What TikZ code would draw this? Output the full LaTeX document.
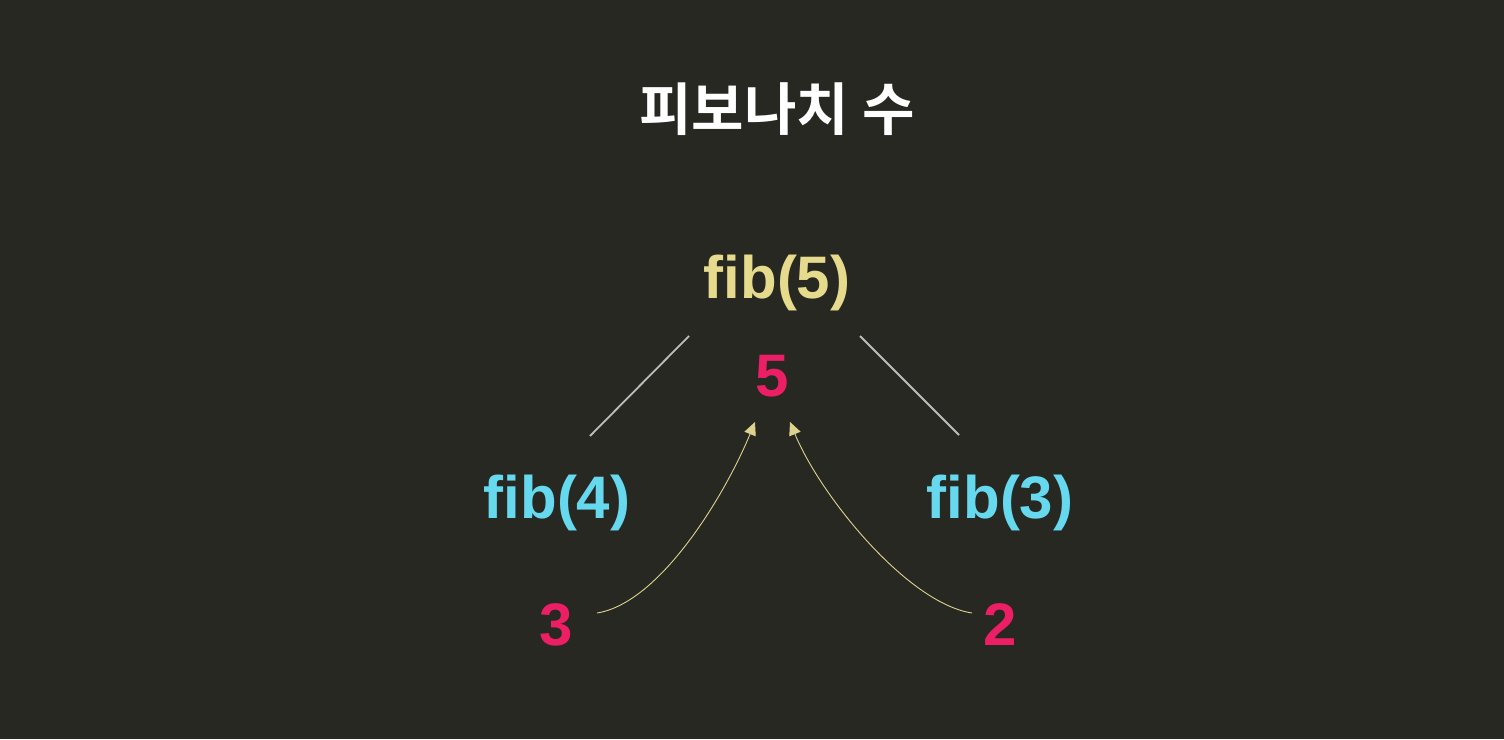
\documentclass[tikz,border=0pt]{standalone}
\usepackage{fontspec}
\setmainfont{Liberation Sans}
\newfontfamily\krfont{Noto Sans CJK KR}[BoldFont=* Bold]
\usetikzlibrary{arrows.meta}
\definecolor{bgc}{HTML}{272822}
\definecolor{fibyellow}{HTML}{E6DB8C}
\definecolor{fibcyan}{HTML}{66D9EF}
\definecolor{fibpink}{HTML}{EC1F66}
\definecolor{edgegray}{HTML}{BDBDBD}
\definecolor{arrowyellow}{HTML}{DDD38E}
\begin{document}
\begin{tikzpicture}[x=1pt,y=-1pt,
  big/.style={font=\fontsize{60}{70}\selectfont\bfseries, inner sep=0pt, anchor=base},
  title/.style={font=\krfont\bfseries\fontsize{57}{66}\selectfont, text=white, inner sep=0pt},
  edge/.style={draw=edgegray, line width=1.8pt},
  ret/.style={draw=arrowyellow, line width=0.9pt, -{Triangle[length=13pt,width=12pt]}}]
\fill[bgc] (0,0) rectangle (1504,739);
\useasboundingbox (0,0) rectangle (1504,739);

\node[title] (ttl) at (777,109) {피보나치 수};

\node[big, text=fibyellow] (f5) at (777,298) {fib(5)};
\node[big, text=fibpink] (v5) at (772,396) {5};
\node[big, text=fibcyan] (f4) at (557,518) {fib(4)};
\node[big, text=fibcyan] (f3) at (1000,518) {fib(3)};
\node[big, text=fibpink] (v3) at (556,645) {3};
\node[big, text=fibpink] (v2) at (1000,645) {2};

\coordinate (l1) at (689,336);
\coordinate (l2) at (590,436);
\coordinate (r1) at (860,336);
\coordinate (r2) at (959,435);
\draw[edge] (l1) -- (l2);
\draw[edge] (r1) -- (r2);

\coordinate (a3s) at (597,613);
\coordinate (a3e) at (755,422);
\coordinate (a2s) at (972,613);
\coordinate (a2e) at (790,422);
\draw[ret] (a3s) .. controls (660,603) and (725,495) .. (a3e);
\draw[ret] (a2s) .. controls (907,603) and (820,495) .. (a2e);
\end{tikzpicture}
\end{document}
